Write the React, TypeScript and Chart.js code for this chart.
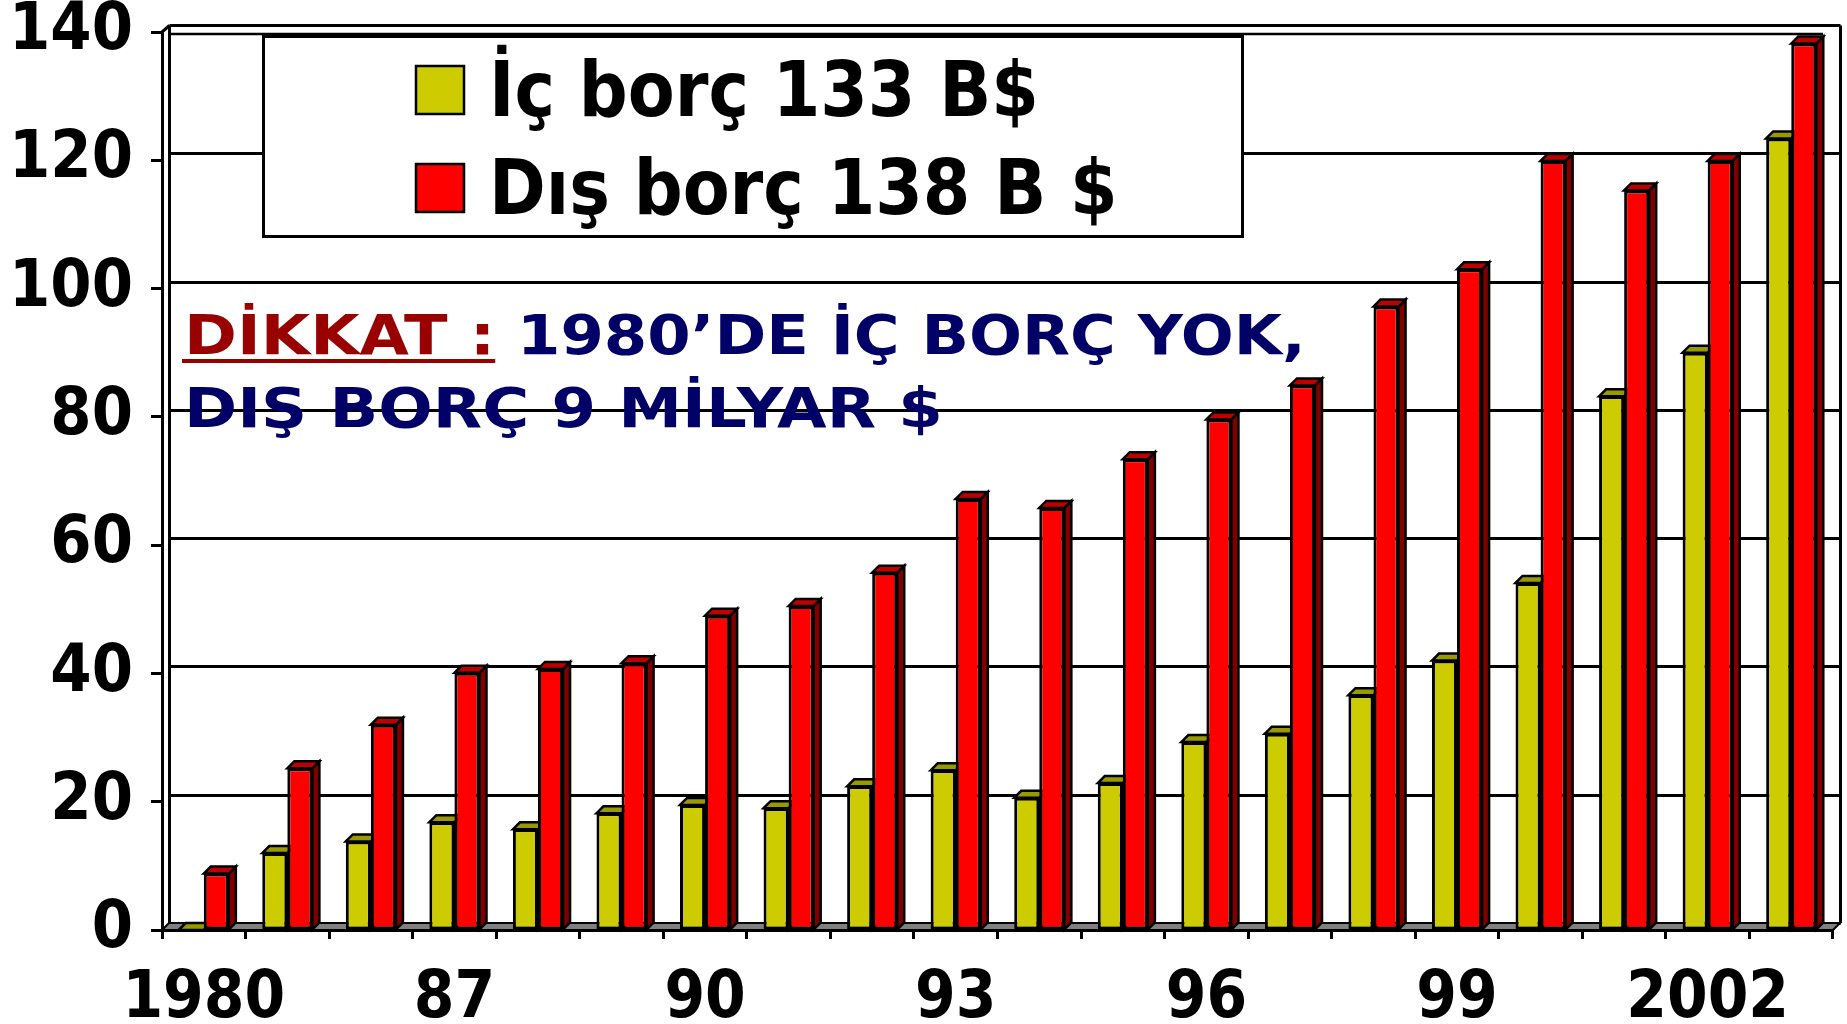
import React, { useEffect, useRef } from "react";
import { Chart, registerables } from "chart.js";

Chart.register(...registerables);

const categories = ["1980", "85", "86", "87", "88", "89", "90", "91", "92", "93", "94", "95", "96", "97", "98", "99", "2000", "2001", "2002", "2003"];
const icBorc = [0, 12, 13.8, 16.8, 15.7, 18.2, 19.5, 19, 22.4, 24.9, 20.6, 22.9, 29.3, 30.6, 36.6, 42, 54.1, 83.2, 90, 123.4];
const disBorc = [8.8, 25.2, 32, 40.1, 40.7, 41.6, 49, 50.5, 55.7, 67.2, 65.8, 73.4, 79.6, 84.9, 97.2, 103, 119.9, 115.3, 119.9, 138.2];
const yTicks = [0, 20, 40, 60, 80, 100, 120, 140];
const seriesNames = ["İç borç 133 B$", "Dış borç 138 B $"];
const noteLabel = "DİKKAT :";
const noteLine1 = " 1980’DE İÇ BORÇ YOK,";
const noteLine2 = "DIŞ BORÇ 9 MİLYAR $";

const FRONT = ["#CCCC00", "#FF0000"];
const TOP = ["#999900", "#C00000"];
const SIDE = ["#666600", "#800000"];
const D = 7;
const COND = '"DejaVu Sans Condensed", "DejaVu Sans", sans-serif';
const WIDE = '"DejaVu Sans", Verdana, sans-serif';

function seg(ctx: CanvasRenderingContext2D, x1: number, y1: number, x2: number, y2: number) {
  ctx.beginPath();
  ctx.moveTo(x1, y1);
  ctx.lineTo(x2, y2);
  ctx.stroke();
}

function poly(ctx: CanvasRenderingContext2D, pts: number[][], fill: string) {
  ctx.beginPath();
  ctx.moveTo(pts[0][0], pts[0][1]);
  for (let i = 1; i < pts.length; i++) ctx.lineTo(pts[i][0], pts[i][1]);
  ctx.closePath();
  ctx.fillStyle = fill;
  ctx.fill();
  ctx.stroke();
}

function stretchText(ctx: CanvasRenderingContext2D, text: string, x: number, y: number, sx: number) {
  ctx.save();
  ctx.translate(x, y);
  ctx.scale(sx, 1);
  ctx.fillText(text, 0, 0);
  ctx.restore();
  return ctx.measureText(text).width * sx;
}

const scenePlugin = {
  id: "scene3d",
  beforeDatasetsDraw(chart: any) {
    const ctx: CanvasRenderingContext2D = chart.ctx;
    const { left, right, top, bottom } = chart.chartArea;
    const ys = chart.scales.y;
    ctx.save();
    ctx.strokeStyle = "#000";
    ctx.lineJoin = "miter";
    ctx.lineWidth = 3;
    const L = Math.round(left + D) + 0.5;
    const R = Math.round(right + D) + 0.5;
    for (const v of yTicks) {
      const yy = Math.round(ys.getPixelForValue(v) - D) + 0.5;
      seg(ctx, L, yy, R, yy);
    }
    // walls
    const T = Math.round(top - D) + 0.5;
    seg(ctx, L, T, L, bottom - D);
    seg(ctx, R, T, R, bottom - D);
    seg(ctx, left, top, L, T);
    ctx.lineWidth = 2.5;
    seg(ctx, L, Math.round(top + 2), right - 10, Math.round(top + 2));
    // floor
    ctx.lineWidth = 2;
    poly(ctx, [[left, bottom], [left + D, bottom - D], [right + D, bottom - D], [right, bottom]], "#808080");
    // 3D faces
    ctx.lineWidth = 2.5;
    for (let ds = 0; ds < chart.data.datasets.length; ds++) {
      const meta = chart.getDatasetMeta(ds);
      meta.data.forEach((bar: any) => {
        const p = bar.getProps(["x", "y", "base", "width"], true);
        const l = p.x - p.width / 2;
        const r = p.x + p.width / 2;
        const t = Math.min(p.y, p.base);
        const b = Math.max(p.y, p.base);
        poly(ctx, [[r, t], [r + D, t - D], [r + D, b - D], [r, b]], SIDE[ds]);
        poly(ctx, [[l, t], [l + D, t - D], [r + D, t - D], [r, t]], TOP[ds]);
      });
    }
    ctx.restore();
  },
  afterDatasetsDraw(chart: any) {
    const ctx: CanvasRenderingContext2D = chart.ctx;
    ctx.save();
    // legend box
    ctx.fillStyle = "#fff";
    ctx.strokeStyle = "#000";
    ctx.lineWidth = 3;
    ctx.fillRect(263.5, 36.5, 979, 200);
    ctx.strokeRect(263.5, 36.5, 979, 200);
    const rows = [
      { sq: 66, base: 116 },
      { sq: 164, base: 214 },
    ];
    ctx.font = `bold 76px ${COND}`;
    ctx.textBaseline = "alphabetic";
    ctx.textAlign = "left";
    chart.data.datasets.forEach((dset: any, i: number) => {
      ctx.fillStyle = dset.backgroundColor;
      ctx.lineWidth = 2.5;
      ctx.fillRect(416, rows[i].sq, 48, 48);
      ctx.strokeRect(416, rows[i].sq, 48, 48);
      ctx.fillStyle = "#000";
      ctx.fillText(dset.label, 489, rows[i].base);
    });
    // note
    ctx.font = `bold 55px ${WIDE}`;
    ctx.fillStyle = "#990000";
    const w = stretchText(ctx, noteLabel, 184, 354, 1.16);
    ctx.fillRect(182, 359, w + 2, 4);
    ctx.fillStyle = "#000066";
    stretchText(ctx, noteLine1, 184 + w, 354, 1.135);
    stretchText(ctx, noteLine2, 184, 427, 1.165);
    ctx.restore();
  },
};

export default function App() {
  const ref = useRef<HTMLCanvasElement>(null);
  useEffect(() => {
    if (!ref.current) return;
    const chart = new Chart(ref.current, {
      type: "bar",
      data: {
        labels: categories,
        datasets: [
          {
            label: seriesNames[0],
            data: icBorc,
            backgroundColor: FRONT[0],
            borderColor: "#000",
            borderWidth: 3,
            borderSkipped: false,
            categoryPercentage: 0.6,
            barPercentage: 1,
          },
          {
            label: seriesNames[1],
            data: disBorc,
            backgroundColor: FRONT[1],
            borderColor: "#000",
            borderWidth: 3,
            borderSkipped: false,
            categoryPercentage: 0.6,
            barPercentage: 1,
          },
        ],
      },
      options: {
        responsive: false,
        animation: false,
        devicePixelRatio: 1,
        layout: { padding: { top: 32, right: 14, left: 0, bottom: 0 } },
        plugins: { legend: { display: false }, tooltip: { enabled: false } },
        scales: {
          x: {
            afterFit: (s: any) => {
              s.height = 94;
            },
            grid: { drawOnChartArea: false, drawTicks: true, tickLength: 9, tickWidth: 3, tickColor: "#000", offset: true },
            border: { display: true, color: "#000", width: 3 },
            ticks: {
              autoSkip: false,
              maxRotation: 0,
              minRotation: 0,
              padding: 22,
              color: "#000",
              font: { family: COND, size: 65, weight: "bold" },
              callback: (_v: any, i: number) => (i % 3 === 0 ? categories[i] : ""),
            },
          },
          y: {
            min: 0,
            max: 140,
            afterFit: (s: any) => {
              s.width = 162;
            },
            afterBuildTicks: (s: any) => {
              s.ticks = yTicks.map((v) => ({ value: v }));
            },
            grid: { drawOnChartArea: false, drawTicks: true, tickLength: 11, tickWidth: 3, tickColor: "#000" },
            border: { display: true, color: "#000", width: 3 },
            ticks: {
              padding: 18,
              color: "#000",
              font: { family: COND, size: 66, weight: "bold", lineHeight: 0.4 },
            },
          },
        },
      },
      plugins: [scenePlugin],
    });
    return () => chart.destroy();
  }, []);
  return (
    <div style={{ position: "fixed", left: 0, top: 0, width: 1847, height: 1024, background: "#fff" }}>
      <canvas ref={ref} width={1847} height={1024} />
    </div>
  );
}
